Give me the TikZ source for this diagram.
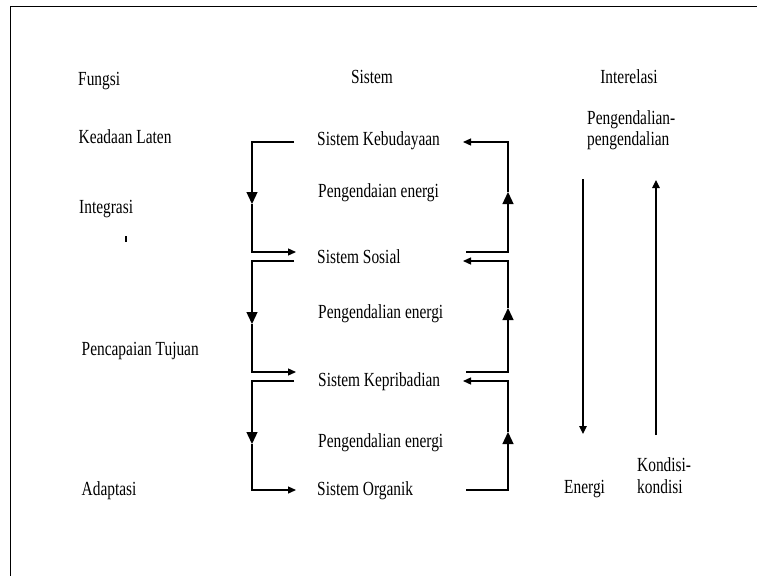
\documentclass[tikz,border=0pt]{standalone}
\usepackage{fontspec}
\setmainfont{Liberation Serif}[FakeStretch=0.77]
\usetikzlibrary{arrows.meta}
\begin{document}
\begin{tikzpicture}[x=1pt,y=-1pt,
  lbl/.style={inner sep=0pt, font=\fontsize{20}{21}\selectfont, anchor=base west},
  clbl/.style={lbl, anchor=base},
  conn/.style={line width=1.3pt, line join=miter},
  endtip/.style={-{Triangle[length=8pt,width=7pt]}},
  midtip/.style={-{Triangle[length=12pt,width=11pt]}},
  longarrow/.style={line width=1.2pt, -{Triangle[length=8pt,width=7.5pt]}}
]
\useasboundingbox (0,0) rectangle (757,576);
\draw[line width=1pt] (757,6) -- (10.5,6) -- (10.5,576);

% headers and function labels
\node[lbl] (fungsi) at (78,85) {Fungsi};
\node[clbl] (sistem) at (372,83.5) {Sistem};
\node[clbl] (inter) at (629,83) {Interelasi};
\node[lbl] (laten) at (78.5,143) {Keadaan Laten};
\node[lbl] (integ) at (79,213) {Integrasi};
\node[lbl] (capai) at (81.5,355) {Pencapaian Tujuan};
\node[lbl] (adapt) at (81.5,495) {Adaptasi};
\draw[line width=1.3pt] (126,236) -- (126,242);

% systems
\node[lbl] (keb) at (317,145) {Sistem Kebudayaan};
\node[lbl] (pe1) at (318,197) {Pengendaian energi};
\node[lbl] (sos) at (317,263) {Sistem Sosial};
\node[lbl] (pe2) at (318,318) {Pengendalian energi};
\node[lbl] (kep) at (318,386.5) {Sistem Kepribadian};
\node[lbl] (pe3) at (318,447) {Pengendalian energi};
\node[lbl] (org) at (317,495) {Sistem Organik};

% interrelation
\node[lbl] (peng1) at (587,124) {Pengendalian-};
\node[lbl] (peng2) at (587,145) {pengendalian};
\node[lbl] (energi) at (564,493) {Energi};
\node[lbl] (kond1) at (637,471.7) {Kondisi-};
\node[lbl] (kond2) at (637,493) {kondisi};

% left loops (downward: control of energy)
\coordinate (l1a) at (294,142); \coordinate (l1m) at (252,204); \coordinate (l1e) at (296,252);
\coordinate (l2a) at (294,261); \coordinate (l2m) at (252,324); \coordinate (l2e) at (296,372);
\coordinate (l3a) at (294,381); \coordinate (l3m) at (252,444); \coordinate (l3e) at (296,490);
\foreach \i in {1,2,3}{
  \draw[conn, midtip] (l\i a) -| (l\i m);
  \draw[conn, endtip] (l\i m) |- (l\i e);
}

% right loops (upward: conditions)
\coordinate (r1a) at (466,252); \coordinate (r1m) at (508,192); \coordinate (r1e) at (463,142);
\coordinate (r2a) at (466,372); \coordinate (r2m) at (508,308); \coordinate (r2e) at (463,261);
\coordinate (r3a) at (466,490); \coordinate (r3m) at (508,432); \coordinate (r3e) at (463,381);
\foreach \i in {1,2,3}{
  \draw[conn, midtip] (r\i a) -| (r\i m);
  \draw[conn, endtip] (r\i m) |- (r\i e);
}

% long arrows
\coordinate (ea) at (583,179); \coordinate (eb) at (583,434);
\coordinate (ka) at (656,435); \coordinate (kb) at (656,180);
\draw[longarrow] (ea) -- (eb);
\draw[longarrow] (ka) -- (kb);
\end{tikzpicture}
\end{document}
